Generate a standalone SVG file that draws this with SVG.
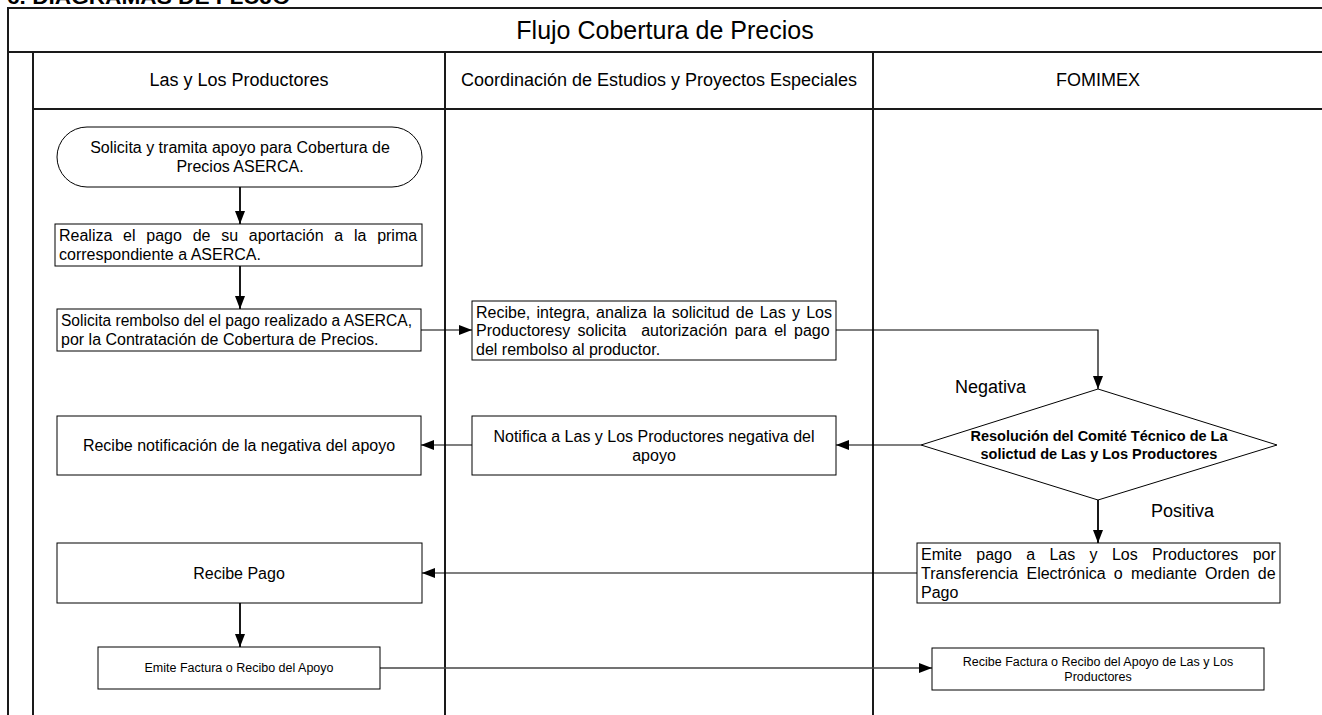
<svg xmlns="http://www.w3.org/2000/svg" width="1322" height="715" viewBox="0 0 1322 715">
<style>
.frame{stroke:#1a1a1a;stroke-width:2;fill:none}
.box{fill:#fff;stroke:#000;stroke-width:1}
.t{font-family:"Liberation Sans",Arial,sans-serif;font-size:16px;fill:#000}
.c{text-anchor:middle}
.hd{font-family:"Liberation Sans",Arial,sans-serif;font-size:18px;fill:#000;text-anchor:middle}
.sm{font-family:"Liberation Sans",Arial,sans-serif;font-size:12.5px;fill:#000;text-anchor:middle}
.b{font-family:"Liberation Sans",Arial,sans-serif;font-size:14.5px;font-weight:bold;fill:#000;text-anchor:middle}
.lbl{font-family:"Liberation Sans",Arial,sans-serif;font-size:18px;fill:#000}
.cv{stroke:#000;stroke-width:1.8;fill:none;marker-end:url(#ah)}
.ch{stroke:#000;stroke-width:1.2;fill:none;marker-end:url(#ah)}
</style>
<defs>
<marker id="ah" markerUnits="userSpaceOnUse" markerWidth="13" markerHeight="10" refX="13" refY="5" orient="auto">
<path d="M0,0 L13,5 L0,10 z" fill="#000"/>
</marker>
</defs>
<rect width="1322" height="715" fill="#fff"/>
<text x="7" y="4" font-family="Liberation Sans,Arial,sans-serif" font-size="20" font-weight="bold" textLength="283" lengthAdjust="spacingAndGlyphs">6. DIAGRAMAS DE FLUJO</text>
<g id="frame">
<path class="frame" d="M8,715 V8 H1330"/>
<path class="frame" d="M8,52 H1330"/>
<path class="frame" d="M33,715 V52"/>
<path class="frame" d="M33,109 H1330"/>
<path class="frame" d="M445,715 V52"/>
<path class="frame" d="M873,715 V52"/>
<text x="665" y="39" font-family="Liberation Sans,Arial,sans-serif" font-size="25" text-anchor="middle">Flujo Cobertura de Precios</text>
<text class="hd" x="239" y="86">Las y Los Productores</text>
<text class="hd" x="659" y="86">Coordinación de Estudios y Proyectos Especiales</text>
<text class="hd" x="1098" y="86">FOMIMEX</text>
</g>
<g id="connectors">
<path class="cv" d="M240,187 V224"/>
<path class="cv" d="M240,266 V309"/>
<path class="ch" d="M421,330 H472"/>
<path class="ch" d="M836,330 H1098 V389"/>
<path class="ch" d="M921,445 H836"/>
<path class="ch" d="M472,445 H421"/>
<path class="cv" d="M1098,500 V543"/>
<path class="ch" d="M917,573 H422"/>
<path class="cv" d="M240,603 V647"/>
<path class="ch" style="stroke:#444;stroke-width:1.6" d="M380,668 H932"/>
</g>
<g id="n1">
<rect class="box" x="57" y="127" width="365" height="60" rx="30"/>
<text class="t c" x="240" y="153">Solicita y tramita apoyo para Cobertura de</text>
<text class="t c" x="240" y="172">Precios ASERCA.</text>
</g>
<g id="n2">
<rect class="box" x="55" y="224" width="367" height="42"/>
<text class="t" x="59" y="241" word-spacing="6.3">Realiza el pago de su aportación a la prima</text>
<text class="t" x="59" y="260">correspondiente a ASERCA.</text>
</g>
<g id="n3">
<rect class="box" x="57" y="309" width="364" height="42"/>
<text class="t" x="61" y="326" textLength="351" lengthAdjust="spacingAndGlyphs">Solicita rembolso del el pago realizado a ASERCA,</text>
<text class="t" x="61" y="345">por la Contratación de Cobertura de Precios.</text>
</g>
<g id="n4">
<rect class="box" x="57" y="416" width="364" height="59"/>
<text class="t c" x="239" y="451">Recibe notificación de la negativa del apoyo</text>
</g>
<g id="n5">
<rect class="box" x="472" y="301" width="364" height="59"/>
<text class="t" x="476" y="317.5" word-spacing="1.8">Recibe, integra, analiza la solicitud de Las y Los</text>
<text class="t" x="476" y="336" word-spacing="2.9" xml:space="preserve">Productoresy solicita  autorización para el pago</text>
<text class="t" x="476" y="354.5">del rembolso al productor.</text>
</g>
<g id="n6">
<rect class="box" x="472" y="416" width="364" height="59"/>
<text class="t c" x="654" y="441.5">Notifica a Las y Los Productores negativa del</text>
<text class="t c" x="654" y="460.5">apoyo</text>
</g>
<g id="n7">
<polygon class="box" points="1098,389 1277,445 1098,500 921,445"/>
<text class="b" x="1099" y="441">Resolución del Comité Técnico de La</text>
<text class="b" x="1099" y="459">solictud de Las y Los Productores</text>
</g>
<g id="labels">
<text class="lbl" x="955" y="393">Negativa</text>
<text class="lbl" x="1151" y="517">Positiva</text>
</g>
<g id="n8">
<rect class="box" x="917" y="543" width="363" height="60"/>
<text class="t" x="921" y="559.5" word-spacing="9.9">Emite pago a Las y Los Productores por</text>
<text class="t" x="921" y="578.5" word-spacing="3.8">Transferencia Electrónica o mediante Orden de</text>
<text class="t" x="921" y="597.5">Pago</text>
</g>
<g id="n9">
<rect class="box" x="57" y="543" width="365" height="60"/>
<text class="t c" x="239" y="579">Recibe Pago</text>
</g>
<g id="n10">
<rect class="box" x="98" y="647" width="282" height="42"/>
<text class="sm" x="239" y="672">Emite Factura o Recibo del Apoyo</text>
</g>
<g id="n11">
<rect class="box" x="932" y="648" width="332" height="42"/>
<text class="sm" x="1098" y="666">Recibe Factura o Recibo del Apoyo de Las y Los</text>
<text class="sm" x="1098" y="681">Productores</text>
</g>
</svg>
